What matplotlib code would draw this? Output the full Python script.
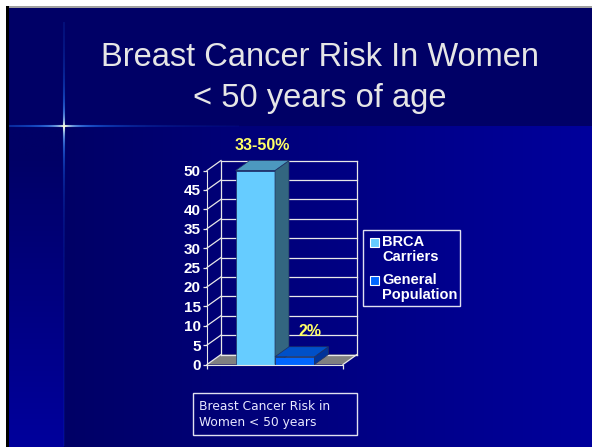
import numpy as np
import matplotlib
matplotlib.use('Agg')
import matplotlib.pyplot as plt
from matplotlib.patches import Rectangle, Polygon
from matplotlib.collections import LineCollection

# chart data
series = ['BRCA\nCarriers', 'General\nPopulation']
risk = [50, 2]
bar_labels = ['33-50%', '2%']
front_colors = ['#66CCFF', '#0066FF']
top_colors = ['#4C99BF', '#0050C8']
side_colors = ['#336680', '#003399']
yticks = list(range(0, 55, 5))

title_lines = ['Breast Cancer Risk In Women', '< 50 years of age']
note = 'Breast Cancer Risk in\nWomen < 50 years'

W, H = 596, 447
fig = plt.figure(figsize=(W / 100, H / 100), dpi=100)
fig.patch.set_facecolor('white')

# ---- slide background (pixel coords) ----
bg = fig.add_axes([0, 0, 1, 1])
bg.axis('off')
bg.add_patch(Rectangle((6, 6), 586, 2, color='#A0A0A0', lw=0))
bg.add_patch(Rectangle((6, 6), 3, H, color='black', lw=0))
bg.add_patch(Rectangle((9, 8), 583, 118, color='#000066', lw=0))
c0 = np.array([0, 0, 102]) / 255
c1 = np.array([0, 0, 156]) / 255
g = np.linspace(0, 1, 200)
horiz = (c0[None, :] * (1 - g[:, None]) + c1[None, :] * g[:, None])[None, :, :]
bg.imshow(horiz, extent=(64, 592, H, 126), aspect='auto', interpolation='bilinear')
gv = np.clip(np.linspace(-0.1, 1, 200), 0, 1)
vert = (c0[None, :] * (1 - gv[:, None]) + c1[None, :] * gv[:, None])[:, None, :]
bg.imshow(vert, extent=(9, 64, H, 126), aspect='auto', interpolation='bilinear')

# lens flare
def flare(points, dist, scale, base):
    segs = [[points[i], points[i + 1]] for i in range(len(points) - 1)]
    cols = []
    for d in dist[:-1]:
        a = np.exp(-d / scale)
        w = np.exp(-d / 10)
        col = np.array([0.1, 0.45, 1.0]) * (1 - w) + np.array([1.0, 1.0, 0.85]) * w
        cols.append((*col, min(1, base + a)))
    return LineCollection(segs, colors=cols, linewidths=1.5)

xs = np.arange(9, 240)
bg.add_collection(flare([(x, 126) for x in xs], np.abs(xs - 64), 55, 0.0))
ys = np.arange(22, H)
bg.add_collection(flare([(64, y) for y in ys], np.abs(ys - 126), 35, 0.08))
bg.set_xlim(0, W)
bg.set_ylim(H, 0)

for k, line in enumerate(title_lines):
    bg.text(320, 58 + 40 * k, line, ha='center', va='center', color='#E6E6E6',
            fontsize=23.5, family='Liberation Sans')

# legend (manual, like the slide)
bg.add_patch(Rectangle((363, 230), 97, 76, fill=False, ec='#E0E0F0', lw=1))
for i, lab in enumerate(series):
    yy = 242 + 38 * i
    bg.add_patch(Rectangle((370, yy - 4.5), 9, 9, fc=front_colors[i], ec='white', lw=0.8))
    bg.text(382, yy - 7.5, lab, color='white', fontsize=10.5, fontweight='bold',
            family='Liberation Sans', va='top', ha='left', linespacing=1.15)

# bottom note box
bg.add_patch(Rectangle((193, 393), 164, 42, fill=False, ec='#E0E0F0', lw=1))
bg.text(199, 414.5, note, color='#E8E8FF', fontsize=8.8, family='DejaVu Sans',
        va='center', ha='left', linespacing=1.3)

# ---- 3D style column chart ----
x0, x1, yb, yt = 207, 343, 364.5, 170.5
ax = fig.add_axes([x0 / W, 1 - yb / H, (x1 - x0) / W, (yb - yt) / H])
ax.set_xlim(0, 1)
ax.set_ylim(0, 50)
ax.patch.set_alpha(0)
ddx = 14 / (x1 - x0)
ddy = 10 / (yb - yt) * 50
gc = '#E8E8E8'

ax.add_patch(Polygon([(0, 0), (1, 0), (1 + ddx, ddy), (ddx, ddy)], closed=True,
                     fc='#808080', ec='none', clip_on=False, zorder=1))
for v in yticks:
    ax.plot([ddx, 1 + ddx], [v + ddy, v + ddy], color=gc, lw=0.9, clip_on=False, zorder=2)
    ax.plot([0, ddx], [v, v + ddy], color=gc, lw=0.9, clip_on=False, zorder=2)
for xe in (ddx, 1 + ddx):
    ax.plot([xe, xe], [ddy, 50 + ddy], color=gc, lw=0.9, clip_on=False, zorder=2)
ax.plot([1, 1 + ddx], [0, ddy], color=gc, lw=0.9, clip_on=False, zorder=2)

bw = 0.29
lab_off = [1.9, 2.0]
lab_dx = [0.0, 0.06]
for i, v in enumerate(risk):
    left = 0.5 - bw + i * bw
    right = left + bw
    ax.add_patch(Rectangle((left, 0), bw, v, fc=front_colors[i], ec='#203060', lw=0.5,
                           clip_on=False, zorder=3 + i))
    ax.add_patch(Polygon([(right, 0), (right + ddx, ddy), (right + ddx, v + ddy), (right, v)],
                         closed=True, fc=side_colors[i], ec='#203060', lw=0.5,
                         clip_on=False, zorder=3 + i))
    ax.add_patch(Polygon([(left, v), (right, v), (right + ddx, v + ddy), (left + ddx, v + ddy)],
                         closed=True, fc=top_colors[i], ec='#203060', lw=0.5,
                         clip_on=False, zorder=3 + i))
    ax.text((left + right) / 2 + ddx / 2 + lab_dx[i], v + ddy + lab_off[i],
            bar_labels[i], color='#FFFF66', ha='center', va='bottom',
            fontsize=11.5, fontweight='bold', family='Liberation Sans', zorder=6)

for s in ('top', 'right'):
    ax.spines[s].set_visible(False)
ax.spines['left'].set_color(gc)
ax.spines['bottom'].set_color(gc)
ax.spines['left'].set_zorder(5)
ax.spines['bottom'].set_zorder(5)
ax.set_yticks(yticks)
ax.set_xticks([0, 1])
ax.set_xticklabels([])
ax.tick_params(colors=gc, length=3, width=0.9)
ax.tick_params(axis='y', labelcolor='white', labelsize=11, pad=1.5)
for t in ax.get_yticklabels():
    t.set_fontweight('bold')
    t.set_family('Liberation Sans')

fig.savefig('out.png', dpi=100, facecolor=fig.get_facecolor())
